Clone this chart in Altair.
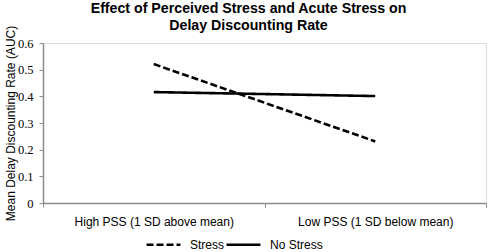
import altair as alt
import pandas as pd

categories = ["High PSS (1 SD above mean)", "Low PSS (1 SD below mean)"]
cat_pos = [0.5, 1.5]
stress = [0.521, 0.231]
no_stress = [0.416, 0.401]
series_names = ["Stress", "No Stress"]
y_ticks = [0, 0.1, 0.2, 0.3, 0.4, 0.5, 0.6]

rows = []
for name, vals in zip(series_names, [stress, no_stress]):
    for c, p, v in zip(categories, cat_pos, vals):
        rows.append({"series": name, "category": c, "pos": p, "value": v})
df = pd.DataFrame(rows)

label_map = " : ".join(
    [f"datum.value == {p} ? '{c}'" for p, c in zip(cat_pos, categories)]
) + " : ''"

base = alt.Chart(df)

lines = base.mark_line(color="black", strokeWidth=2.6).encode(
    x=alt.X(
        "pos:Q",
        scale=alt.Scale(domain=[0, 2], nice=False, zero=False),
        axis=alt.Axis(
            values=[0, 1, 2],
            labels=False,
            title=None,
            grid=False,
            ticks=True,
            tickSize=4,
            tickColor="#8c8c8c",
            domainColor="#8c8c8c",
            domainWidth=1.5,
            orient="bottom",
        ),
    ),
    y=alt.Y(
        "value:Q",
        scale=alt.Scale(domain=[0, 0.6], nice=False),
        axis=alt.Axis(
            values=y_ticks,
            format="",
            labelExpr="datum.value == 0 ? '0' : format(datum.value, '.1f')",
            title="Mean Delay Discounting Rate (AUC)",
            titleFont="Liberation Sans",
            titleFontSize=12,
            titleFontWeight="normal",
            titleColor="black",
            titlePadding=0,
            labelFont="Liberation Serif",
            labelFontSize=12.5,
            labelColor="black",
            labelPadding=6,
            tickSize=4,
            tickColor="#8c8c8c",
            domainColor="#8c8c8c",
            domainWidth=1.5,
            grid=False,
        ),
    ),
    strokeDash=alt.StrokeDash(
        "series:N",
        scale=alt.Scale(domain=series_names, range=[[7, 3], [1, 0]]),
        legend=alt.Legend(
            title=None,
            orient="none",
            direction="horizontal",
            legendX=102,
            legendY=183,
            symbolType="stroke",
            symbolStrokeColor="black",
            symbolStrokeWidth=2.6,
            symbolSize=1150,
            labelFont="Liberation Sans",
            labelFontSize=12,
            labelColor="black",
            labelOffset=8,
            columnPadding=-6,
            padding=0,
        ),
    ),
    detail="series:N",
)

cat_df = pd.DataFrame({"pos": cat_pos, "category": categories})
labels_layer = alt.Chart(cat_df).mark_point(opacity=0).encode(
    x=alt.X(
        "pos:Q",
        scale=alt.Scale(domain=[0, 2], nice=False, zero=False),
        axis=alt.Axis(
            values=cat_pos,
            labelExpr=label_map,
            title=None,
            ticks=False,
            domain=False,
            grid=False,
            labelFont="Liberation Sans",
            labelFontSize=12,
            labelColor="black",
            labelPadding=13,
            orient="bottom",
        ),
    ),
)

chart = (
    alt.layer(lines, labels_layer)
    .resolve_axis(x="independent")
    .properties(
        width=443,
        height=160,
        autosize=alt.AutoSizeParams(type="none"),
        padding={"left": 43, "top": 43, "right": 4, "bottom": 49},
        title=alt.TitleParams(
            text=["Effect of Perceived Stress and Acute Stress on", "Delay Discounting Rate"],
            font="Liberation Sans",
            fontSize=14.2,
            fontWeight="bold",
            color="black",
            anchor="middle",
            dx=-16,
            dy=8,
            offset=0,
            lineHeight=17,
        ),
    )
    .configure_view(stroke=None)
    .configure(background="white")
)

chart.save("out.html", embed_options={"renderer": "svg", "actions": False})
